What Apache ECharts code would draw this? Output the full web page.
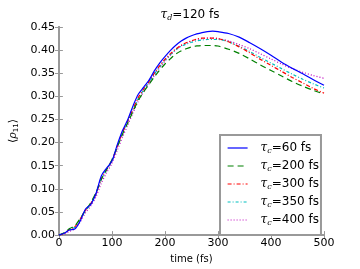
<!DOCTYPE html>
<html><head><meta charset="utf-8">
<script src="https://cdn.jsdelivr.net/npm/echarts@6/dist/echarts.min.js"></script>
<style>html,body{margin:0;padding:0;background:#fff}#c{width:360px;height:269px}</style>
</head><body><div id="c"></div>
<script>
var times = [0,10,20,30,40,50,60,70,80,90,100,110,120,130,140,150,160,170,180,190,200,210,220,230,240,250,260,270,280,290,300,320,340,360,380,400,420,440,460,480,500];
var tau60  = [0,0.004,0.011,0.013,0.030,0.056,0.066,0.090,0.128,0.145,0.160,0.195,0.226,0.250,0.280,0.305,0.320,0.335,0.355,0.372,0.386,0.399,0.410,0.419,0.426,0.431,0.435,0.438,0.440,0.441,0.440,0.436,0.428,0.416,0.403,0.389,0.374,0.361,0.349,0.336,0.324];
var tau200 = [0,0.005,0.014,0.020,0.036,0.053,0.070,0.092,0.120,0.142,0.163,0.190,0.218,0.243,0.268,0.292,0.310,0.326,0.342,0.357,0.370,0.381,0.391,0.398,0.403,0.407,0.409,0.410,0.410,0.410,0.409,0.402,0.393,0.381,0.368,0.356,0.344,0.332,0.322,0.313,0.305];
var tau300 = [0,0.004,0.012,0.018,0.034,0.054,0.068,0.090,0.122,0.142,0.161,0.192,0.222,0.247,0.273,0.298,0.316,0.332,0.350,0.366,0.380,0.392,0.402,0.410,0.416,0.420,0.424,0.426,0.426,0.426,0.425,0.418,0.407,0.394,0.380,0.367,0.354,0.341,0.329,0.317,0.307];
var tau350 = [0,0.004,0.012,0.017,0.033,0.053,0.067,0.089,0.121,0.141,0.160,0.191,0.221,0.246,0.272,0.296,0.314,0.330,0.348,0.364,0.378,0.390,0.400,0.408,0.413,0.417,0.420,0.422,0.423,0.423,0.423,0.418,0.408,0.397,0.384,0.372,0.360,0.348,0.337,0.327,0.318];
var tau400 = [0,0.002,0.008,0.014,0.028,0.048,0.063,0.083,0.112,0.135,0.155,0.183,0.212,0.238,0.265,0.290,0.310,0.327,0.345,0.362,0.376,0.389,0.400,0.409,0.415,0.420,0.423,0.425,0.426,0.426,0.425,0.420,0.412,0.403,0.392,0.381,0.370,0.360,0.352,0.345,0.339];
var seriesNames = ['60','200','300','350','400'];
var xTicks = [0,100,200,300,400,500];
var yTicks = [0,0.05,0.10,0.15,0.20,0.25,0.30,0.35,0.40,0.45];

var allVals = [tau60,tau200,tau300,tau350,tau400];
var colors = ['#0000ff','#008000','#ff0000','#00bfbf','#bf00bf'];
var dashes = ['solid',[6,4],[4,2,1,2],[3,2,1,2],[1,2]];
var font = 'DejaVu Sans';
var chart = echarts.init(document.getElementById('c'), null, {renderer:'canvas'});
var series = allVals.map(function(v,i){
  return {
    name: seriesNames[i], type:'line', showSymbol:false, symbol:'none', smooth:0.3,
    data: times.map(function(t,k){return [t,v[k]];}),
    lineStyle:{color:colors[i], width:1.2, type:dashes[i]},
    itemStyle:{color:colors[i]}, z: 5-i
  };
});
series[0].z = 6;
function axisCommon(show){
  return {
    axisLine:{show:true, lineStyle:{color:'#999', width:2}},
    axisTick:{show:true, inside:true, length:4, lineStyle:{color:'#999', width:1}},
    splitLine:{show:false},
    axisLabel:{show:show, color:'#000', fontFamily:font, fontSize:11}
  };
}
var xa = Object.assign({type:'value', min:0, max:500, interval:100, position:'bottom',
  name:'time (fs)', nameLocation:'middle', nameGap:12,
  nameTextStyle:{color:'#000', fontFamily:font, fontSize:10}}, axisCommon(true));
xa.axisLabel.margin = 3;
var xa2 = Object.assign({type:'value', min:0, max:500, interval:100, position:'top'}, axisCommon(false));
var ya = Object.assign({type:'value', min:0, max:0.45, interval:0.05, position:'left',
  name:'{a|⟨}{r|ρ}{s|11}{a|⟩}', nameLocation:'middle', nameGap:34, nameRotate:90,
  nameTextStyle:{color:'#000', rich:{
    a:{fontFamily:font, fontSize:11, color:'#000'},
    r:{fontFamily:'DejaVu Serif', fontStyle:'italic', fontSize:11, color:'#000'},
    s:{fontFamily:font, fontSize:7, color:'#000', padding:[5,0,0,0]}
  }}}, axisCommon(true));
ya.axisLabel.formatter = function(v){return v.toFixed(2);};
ya.axisLabel.margin = 4;
var ya2 = Object.assign({type:'value', min:0, max:0.45, interval:0.05, position:'right'}, axisCommon(false));

var richTau = {
  t:{fontFamily:'DejaVu Serif', fontStyle:'italic', fontWeight:'normal', fontSize:12, color:'#000'},
  s:{fontFamily:'DejaVu Serif', fontStyle:'italic', fontWeight:'normal', fontSize:8, color:'#000', padding:[6,0,0,0]},
  n:{fontFamily:font, fontWeight:'normal', fontSize:12, color:'#000'}
};
var richLeg = JSON.parse(JSON.stringify(richTau));
richLeg.t.padding = [0,0,0,8];

chart.setOption({
  animation:false,
  backgroundColor:'#fff',
  title:{
    text:'{t|τ}{s|d}{n|=120 fs}', left:185, textAlign:'center', top:3,
    textStyle:{fontWeight:'normal', rich:richTau}
  },
  grid:{left:46, right:36, top:27, bottom:27},
  xAxis:[xa, xa2],
  yAxis:[ya, ya2],
  legend:{
    orient:'vertical', left:220, top:135,
    padding:[7,2,8,7], itemGap:5, itemWidth:20, itemHeight:14,
    borderColor:'#999', borderWidth:2, backgroundColor:'#fff',
    itemStyle:{opacity:0},
    lineStyle:{width:1.2},
    data: seriesNames,
    formatter:function(n){return '{t|τ}{s|c}{n|=' + n + ' fs}';},
    textStyle:{rich:richLeg}
  },
  series: series
});
</script></body></html>
